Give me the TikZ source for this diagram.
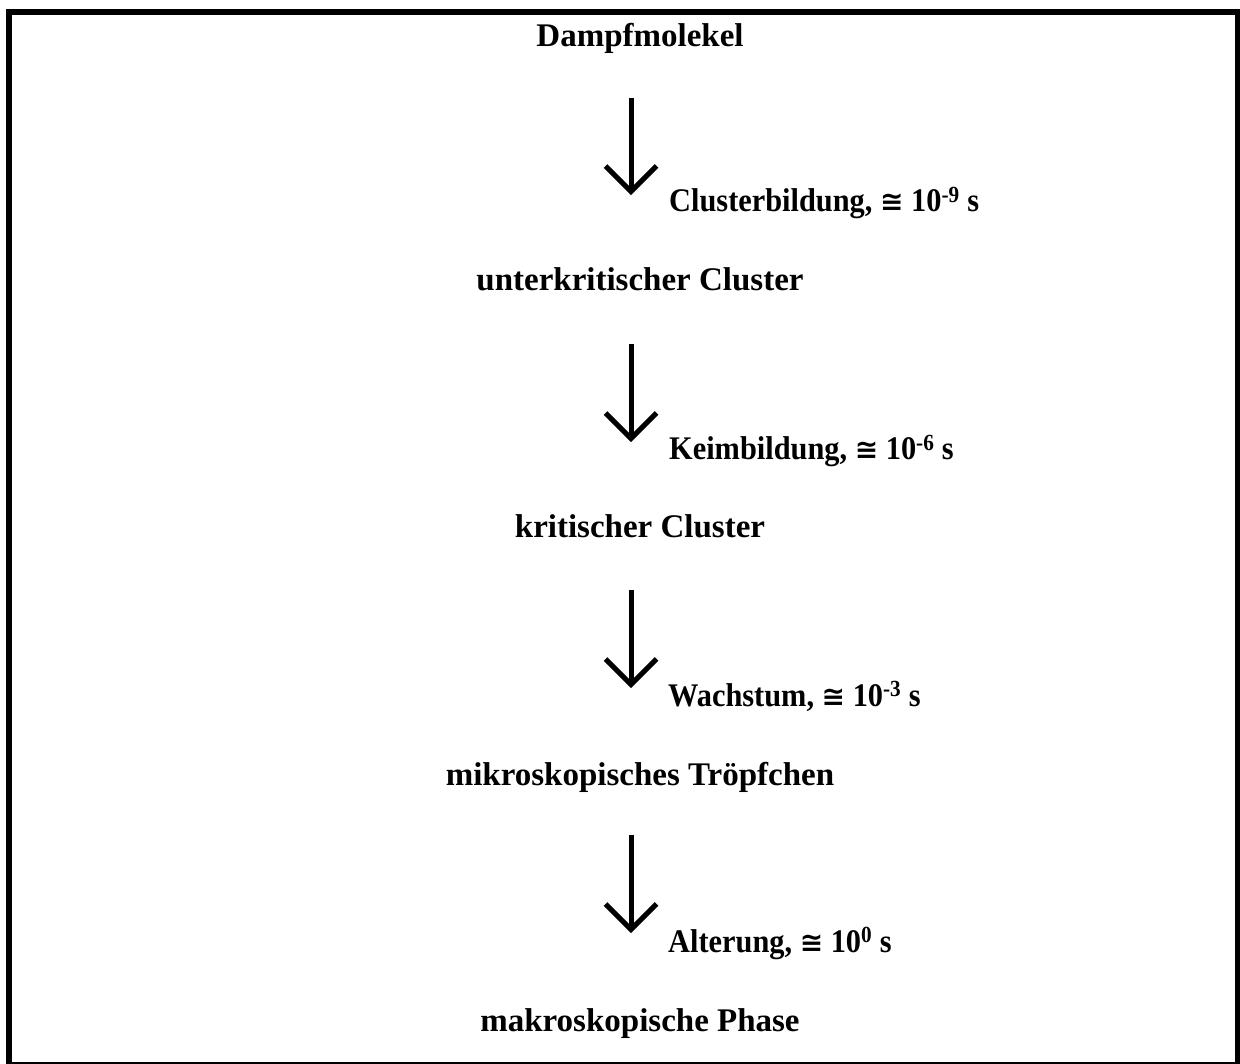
\documentclass[tikz,border=0pt]{standalone}
\usepackage{fontspec}
\setmainfont{Liberation Serif}
\newfontfamily\labelfont{Liberation Serif}[FakeStretch=0.92]
\newfontfamily\symfont{DejaVu Sans}
\usetikzlibrary{calc}
\tikzset{
  stage/.style={font=\fontsize{33}{40}\selectfont\bfseries, inner sep=0pt, anchor=base},
  proc/.style={font=\fontsize{33}{40}\labelfont\bfseries, inner sep=0pt, anchor=base west},
  shaft/.style={line width=5pt, line cap=butt},
  barb/.style={line width=5pt, line join=miter, line cap=butt},
  frame/.style={line width=6pt}
}
\newcommand{\approxsym}{ {\symfont\fontsize{28}{34}\selectfont ≅} }
\begin{document}
\begin{tikzpicture}[x=1pt,y=-1pt]
\useasboundingbox (0,0) rectangle (1240,1064);
\draw[frame] (9,12) rectangle (1238,1065);

\node[stage] (n0) at (640,47) {Dampfmolekel};
\node[stage] (n1) at (640,291) {unterkritischer Cluster};
\node[stage] (n2) at (640,537) {kritischer Cluster};
\node[stage] (n3) at (640,785) {mikroskopisches Tröpfchen};
\node[stage] (n4) at (640,1031) {makroskopische Phase};

\foreach \i/\top/\tip in {1/98/191.5, 2/344/438.5, 3/590/684.5, 4/835/929.5}{
  \coordinate (s\i) at (631,\top);
  \coordinate (e\i) at (631,\tip);
  \draw[shaft] (s\i) -- (e\i);
  \draw[barb] ($(e\i)+(-25.5,-25.5)$) -- (e\i) -- ($(e\i)+(25.5,-25.5)$);
}

\node[proc] (l1) at (669,212) {Clusterbildung,\approxsym10\textsuperscript{-9} s};
\node[proc] (l2) at (669,460) {Keimbildung,\approxsym10\textsuperscript{-6} s};
\node[proc] (l3) at (668,706) {Wachstum,\approxsym10\textsuperscript{-3} s};
\node[proc] (l4) at (668,952) {Alterung,\approxsym10\textsuperscript{0} s};
\end{tikzpicture}
\end{document}
